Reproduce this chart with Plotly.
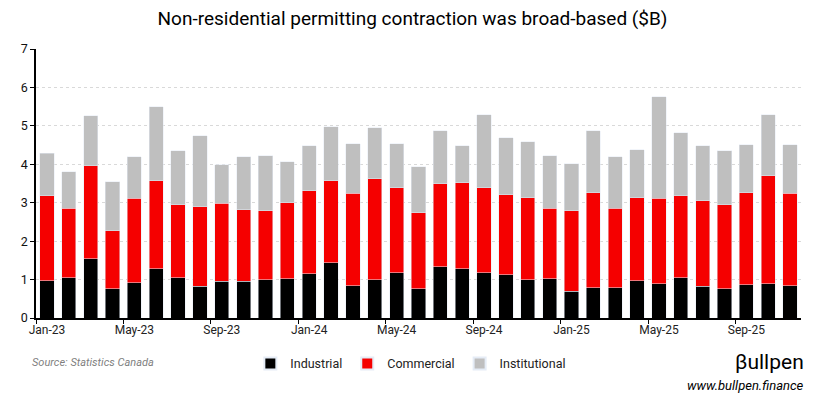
import plotly.graph_objects as go

months = ["Jan-23","Feb-23","Mar-23","Apr-23","May-23","Jun-23","Jul-23","Aug-23","Sep-23","Oct-23","Nov-23","Dec-23",
          "Jan-24","Feb-24","Mar-24","Apr-24","May-24","Jun-24","Jul-24","Aug-24","Sep-24","Oct-24","Nov-24","Dec-24",
          "Jan-25","Feb-25","Mar-25","Apr-25","May-25","Jun-25","Jul-25","Aug-25","Sep-25","Oct-25","Nov-25"]

# cumulative tops
industrial = [0.97,1.05,1.54,0.76,0.92,1.28,1.05,0.82,0.95,0.95,1.00,1.02,
              1.15,1.44,0.84,1.00,1.18,0.76,1.34,1.28,1.18,1.13,1.00,1.02,
              0.69,0.79,0.79,0.97,0.89,1.05,0.82,0.76,0.87,0.89,0.84]
ind_plus_com = [3.18,2.85,3.96,2.27,3.11,3.57,2.95,2.90,2.98,2.82,2.79,3.00,
                3.31,3.57,3.24,3.63,3.39,2.74,3.50,3.52,3.39,3.21,3.13,2.85,
                2.79,3.26,2.85,3.13,3.11,3.18,3.05,2.95,3.26,3.70,3.24]
total = [4.29,3.81,5.26,3.55,4.20,5.50,4.35,4.74,3.99,4.20,4.22,4.07,
         4.48,4.98,4.54,4.95,4.54,3.94,4.87,4.48,5.29,4.69,4.59,4.22,
         4.02,4.87,4.20,4.38,5.76,4.82,4.48,4.35,4.51,5.29,4.51]

commercial = [round(c - i, 2) for c, i in zip(ind_plus_com, industrial)]
institutional = [round(t - c, 2) for t, c in zip(total, ind_plus_com)]

fig = go.Figure()
fig.add_bar(x=months, y=industrial, name="Industrial", marker_color="#000000")
fig.add_bar(x=months, y=commercial, name="Commercial", marker_color="#f50000")
fig.add_bar(x=months, y=institutional, name="Institutional", marker_color="#bfbfbf")

font = "Roboto"
fig.update_layout(
    barmode="stack",
    bargap=0.35,
    width=818, height=396,
    margin=dict(l=28, r=25, t=41, b=86),
    paper_bgcolor="white", plot_bgcolor="white",
    font=dict(family=font, size=12, color="#222"),
    title=dict(text="Non-residential permitting contraction was broad-based ($B)",
               x=0.4945, xanchor="center", y=0.975, yanchor="middle",
               font=dict(size=19, color="#000", family=font)),
    showlegend=True,
    legend=dict(orientation="h", x=0.49, xanchor="center", y=-0.171, yanchor="middle",
                font=dict(size=12.5, color="#222"), traceorder="normal",
                itemwidth=30, itemsizing="constant"),
    xaxis=dict(type="category", dtick=4, tickson="boundaries", ticks="outside",
               ticklen=4, tickcolor="#000", showline=True, linecolor="#000", linewidth=1.5,
               showgrid=False, tickangle=0, automargin=False,
               tickfont=dict(size=12, color="#222")),
    yaxis=dict(range=[0, 7], dtick=1, ticks="outside", ticklen=4, tickcolor="#000",
               showline=True, linecolor="#000", linewidth=1.5, automargin=False,
               showgrid=True, gridcolor="#d9d9d9", griddash="dot", gridwidth=1,
               zeroline=False, tickfont=dict(size=12.5, color="#111")),
    annotations=[
        dict(text="<i>Source: Statistics Canada</i>", xref="paper", yref="paper",
             x=-0.008, y=-0.164, xanchor="left", yanchor="middle", showarrow=False,
             font=dict(size=11, color="#7f7f7f", family=font)),
        dict(text="\u03b2ullpen", xref="paper", yref="paper",
             x=1.007, y=-0.165, xanchor="right", yanchor="middle", showarrow=False,
             font=dict(size=21, color="#000", family=font)),
        dict(text="<i>www.bullpen.finance</i>", xref="paper", yref="paper",
             x=1.007, y=-0.25, xanchor="right", yanchor="middle", showarrow=False,
             font=dict(size=13, color="#000", family=font)),
    ],
)

fig.write_html("out.html")
